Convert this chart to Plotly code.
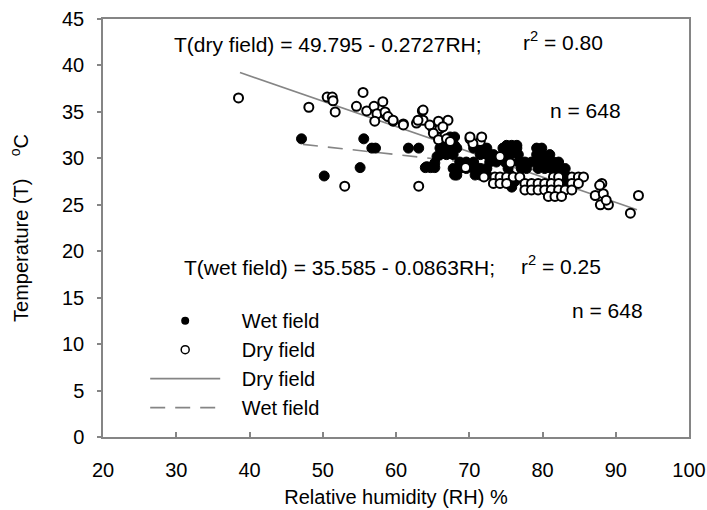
import plotly.graph_objects as go

# ---------------- data ----------------
dry_rh = [38.5, 48.1, 50.6, 51.3, 51.4, 51.7, 55.5, 54.6, 56.0, 57.0, 58.2, 57.4, 57.1, 58.6,
          59.6, 61.0, 63.6, 62.8, 63.7, 64.9, 65.5, 66.0, 53.0, 63.1,
          58.5, 58.9, 59.6, 61.0, 63.7, 63.0, 64.6, 65.8, 67.1, 66.4, 65.1, 65.8, 66.9, 67.4,
          70.1, 71.5, 70.5, 70.1, 71.7, 74.2, 75.6,
          73.5, 74.2, 75.1, 76.0, 76.9, 81.5, 82.2, 84.0, 84.9, 85.6,
          73.3, 74.2, 75.1, 77.6, 78.5, 79.4, 80.3, 81.2, 82.2, 84.0, 84.9,
          77.6, 78.5, 79.4, 80.3, 81.2, 82.2, 83.1, 84.0,
          80.8, 81.7, 82.6,
          88.1, 87.2, 88.3, 87.9, 89.0, 93.1, 92.0, 87.8, 88.7, 72.0, 69.5]
dry_t = [36.5, 35.5, 36.6, 36.6, 36.2, 35.0, 37.1, 35.6, 35.1, 35.6, 36.1, 34.8, 34.0, 34.7,
         34.0, 33.7, 35.1, 33.8, 34.1, 33.4, 32.6, 33.2, 27.0, 27.0,
         35.0, 34.5, 34.1, 33.6, 35.2, 34.1, 33.6, 34.0, 34.1, 33.4, 32.7, 32.0, 32.1, 31.8,
         32.1, 31.8, 31.6, 32.3, 32.3, 30.2, 29.5,
         28.0, 28.0, 28.0, 28.0, 28.0, 28.0, 28.0, 28.0, 28.0, 28.0,
         27.3, 27.3, 27.3, 27.3, 27.3, 27.3, 27.3, 27.3, 27.3, 27.3, 27.3,
         26.6, 26.6, 26.6, 26.6, 26.6, 26.6, 26.6, 26.6,
         25.9, 25.9, 25.9,
         27.3, 26.0, 26.2, 25.0, 25.0, 26.0, 24.1, 27.1, 25.5, 28.0, 29.0]

wet_rh = [47.1, 50.2, 55.6, 55.1, 56.7, 57.2, 61.7, 63.1, 64.0, 64.7, 65.3, 65.6, 66.4,
          64.2, 64.9, 65.3, 66.2, 68.3, 68.7, 69.6, 71.5, 72.4,
          67.4, 68.0,
          66.9, 68.0, 75.1, 75.8, 76.5,
          66.0, 66.7, 67.4, 68.3, 70.6, 71.5, 72.4, 74.6, 75.6, 76.5, 79.2, 79.9,
          66.0, 66.9, 67.8, 71.5, 72.4, 73.3, 74.6, 75.6, 76.7, 79.2, 80.1, 81.0,
          68.7, 69.6, 70.6, 72.8, 73.7, 74.9, 76.7, 77.6, 78.5, 79.4, 80.6, 81.5, 82.2,
          67.8, 68.7, 69.6, 70.6, 71.5, 72.4, 75.3, 77.1, 77.8, 79.4, 80.3, 81.2, 82.2, 83.1,
          68.0, 70.8, 71.7, 75.6, 82.4, 83.1,
          75.6, 76.2, 83.1, 75.8, 83.3]
wet_t = [32.1, 28.1, 32.1, 29.0, 31.1, 31.1, 31.1, 31.1, 29.0, 29.0, 29.0, 30.2, 30.7,
         29.1, 29.1, 29.5, 31.1, 28.2, 29.1, 29.1, 28.2, 28.2,
         32.3, 32.3,
         31.4, 31.4, 31.4, 31.4, 31.4,
         31.1, 31.1, 31.1, 31.1, 31.1, 31.1, 31.1, 31.1, 31.1, 31.1, 31.1, 31.1,
         30.4, 30.4, 30.4, 30.4, 30.4, 30.4, 30.4, 30.4, 30.4, 30.4, 30.4, 30.4,
         29.6, 29.6, 29.6, 29.6, 29.6, 29.6, 29.6, 29.6, 29.6, 29.6, 29.6, 29.6, 29.6,
         28.9, 28.9, 28.9, 28.9, 28.9, 28.9, 28.9, 28.9, 28.9, 28.9, 28.9, 28.9, 28.9, 28.9,
         28.2, 28.2, 28.2, 28.2, 28.2, 28.2,
         27.5, 27.5, 27.5, 26.9, 26.9]

# regression fits printed on the chart
dry_coef = [49.795, -0.2727]
wet_coef = [35.585, -0.0863]
dry_fit_rh = [38.7, 92.9]
wet_fit_rh = [47.3, 84.0]

x_ticks = [20, 30, 40, 50, 60, 70, 80, 90, 100]
y_ticks = [0, 5, 10, 15, 20, 25, 30, 35, 40, 45]

dry_fit_t = [dry_coef[0] + dry_coef[1] * v for v in dry_fit_rh]
wet_fit_t = [wet_coef[0] + wet_coef[1] * v for v in wet_fit_rh]

FONT = "Liberation Sans, Arial, Helvetica, sans-serif"
GRAY = "#858585"
PAD = "\u00a0\u00a0\u00a0"

fig = go.Figure()

# regression lines
fig.add_trace(go.Scatter(x=dry_fit_rh, y=dry_fit_t, mode="lines", showlegend=False,
                         line=dict(color=GRAY, width=1.6)))
fig.add_trace(go.Scatter(x=wet_fit_rh, y=wet_fit_t, mode="lines", showlegend=False,
                         line=dict(color=GRAY, width=1.6, dash="15px,10px")))

# data
fig.add_trace(go.Scatter(x=wet_rh, y=wet_t, mode="markers", showlegend=False,
                         marker=dict(symbol="circle", size=10, color="black",
                                     line=dict(color="black", width=1))))
fig.add_trace(go.Scatter(x=dry_rh, y=dry_t, mode="markers", showlegend=False,
                         marker=dict(symbol="circle", size=9, color="white",
                                     line=dict(color="black", width=2))))

# legend entries
fig.add_trace(go.Scatter(x=[None], y=[None], mode="markers", name=PAD + "Wet field", legendgroup="a",
                         marker=dict(symbol="circle", size=8, color="black")))
fig.add_trace(go.Scatter(x=[None], y=[None], mode="markers", name=PAD + "Dry field", legendgroup="b",
                         marker=dict(symbol="circle", size=8, color="white",
                                     line=dict(color="black", width=1.5))))
fig.add_trace(go.Scatter(x=[None], y=[None], mode="lines", name=PAD + "Dry field", legendgroup="c",
                         line=dict(color=GRAY, width=1.6)))
fig.add_trace(go.Scatter(x=[None], y=[None], mode="lines", name=PAD + "Wet field", legendgroup="d",
                         line=dict(color=GRAY, width=1.6, dash="15px,10px")))

ann_font = dict(family=FONT, size=21, color="black")
annotations = [
    dict(x=29.4, y=42.3, text="T(dry field) = 49.795 - 0.2727RH;"),
    dict(x=77.0, y=42.6, text="r<sup>2</sup> = 0.80"),
    dict(x=80.7, y=35.1, text="n = 648"),
    dict(x=30.8, y=18.2, text="T(wet field) = 35.585 - 0.0863RH;"),
    dict(x=76.8, y=18.5, text="r<sup>2</sup> = 0.25"),
    dict(x=83.8, y=13.6, text="n = 648"),
]
for a in annotations:
    fig.add_annotation(xref="x", yref="y", xanchor="left", yanchor="middle",
                       showarrow=False, font=ann_font, **a)

fig.update_layout(
    width=707, height=510,
    margin=dict(l=103, r=18, t=19, b=73),
    paper_bgcolor="white", plot_bgcolor="white",
    font=dict(family=FONT, size=20, color="black"),
    legend=dict(x=0.072, y=0.325, xanchor="left", yanchor="top",
                bgcolor="rgba(0,0,0,0)", itemwidth=70, tracegroupgap=0,
                font=dict(family=FONT, size=20, color="black")),
)
fig.update_xaxes(range=[20, 100], tickvals=x_ticks, ticks="inside", ticklen=5,
                 tickcolor=GRAY, tickwidth=1.5, showgrid=False, zeroline=False,
                 showline=True, linecolor=GRAY, linewidth=1.5, mirror=True,
                 automargin=False,
                 ticklabelstandoff=14, tickfont=dict(family=FONT, size=20),
                 title=dict(text="Relative humidity (RH) %", standoff=10,
                            font=dict(family=FONT, size=20)))
fig.update_yaxes(range=[0, 45], tickvals=y_ticks, ticks="outside", ticklen=4,
                 tickcolor=GRAY, tickwidth=1.5, showgrid=False, zeroline=False,
                 showline=True, linecolor=GRAY, linewidth=1.5, mirror=True,
                 automargin=False,
                 ticklabelstandoff=9, tickfont=dict(family=FONT, size=20),
                 title=dict(text="Temperature (T)\u00a0\u00a0\u00a0\u00a0<sup>o</sup>C",
                            standoff=28, font=dict(family=FONT, size=20)))

fig.write_html("out.html", config={"displayModeBar": False},
               post_script="document.body.style.margin='0';"
                           "document.body.style.overflow='hidden';")
